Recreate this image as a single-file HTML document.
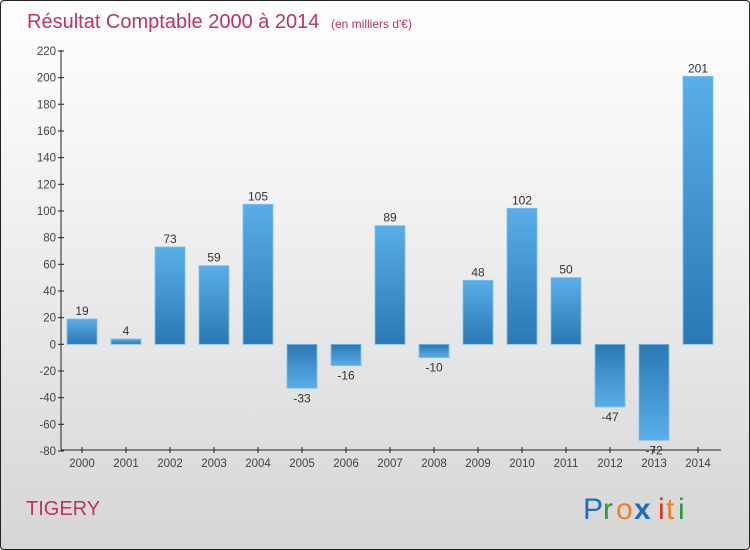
<!DOCTYPE html>
<html><head><meta charset="utf-8"><style>
body{margin:0}
#wrap{width:748px;height:548px;border:1px solid #222;border-radius:4px;background:linear-gradient(#ffffff,#f4f4f4 30%,#d6d6d6);position:relative;overflow:hidden;font-family:"Liberation Sans",sans-serif}
</style></head><body>
<div id="wrap">
<svg id="svg" width="748" height="548">
<defs>
<linearGradient id="gp" x1="0" y1="0" x2="0" y2="1"><stop offset="0" stop-color="#5aaee8"/><stop offset="1" stop-color="#2a78b4"/></linearGradient>
<linearGradient id="gn" x1="0" y1="0" x2="0" y2="1"><stop offset="0" stop-color="#2a78b4"/><stop offset="1" stop-color="#5aaee8"/></linearGradient>
</defs>
<text x="26" y="27" font-size="20" fill="#c0306a">Résultat Comptable 2000 à 2014 <tspan font-size="12" dx="6">(en milliers d'€)</tspan></text>
<text x="25" y="514" font-size="20" fill="#c0306a">TIGERY</text>
<g font-size="30" font-family="Liberation Sans,sans-serif">
<text x="582" y="518" fill="#1a6fc0">P</text><text x="602" y="518" fill="#2a9a3a">r</text><text x="615" y="518" fill="#f08020">o</text><text x="633" y="518" fill="#1a6fc0" font-weight="bold">x</text><text x="657" y="518" fill="#e03020">i</text><text x="665" y="518" fill="#f08020">t</text><text x="677" y="518" fill="#2a9a3a">i</text>
</g>
<g id="g"></g>
</svg>
</div>
<script>
const categories=["2000","2001","2002","2003","2004","2005","2006","2007","2008","2009","2010","2011","2012","2013","2014"];
const values=[19,4,73,59,105,-33,-16,89,-10,48,102,50,-47,-72,201];
const yTicks=[220,200,180,160,140,120,100,80,60,40,20,0,-20,-40,-60,-80];
const NS="http://www.w3.org/2000/svg";
const g=document.getElementById('g');
const y=v=>343.3-(v*400/300);
const x=i=>81+i*44;
function mk(t,a){const e=document.createElementNS(NS,t);for(const k in a)e.setAttribute(k,a[k]);g.appendChild(e);return e;}
let ax=mk('line',{x1:60,y1:49,x2:60,y2:449,stroke:'#222'});


let bx=mk('line',{x1:60,y1:449,x2:720,y2:449,stroke:'#222'});


yTicks.forEach(v=>{
 mk('line',{x1:57,y1:y(v),x2:63,y2:y(v),stroke:'#222'});
 const t=mk('text',{x:55,y:y(v)+4,'text-anchor':'end','font-size':11.5,fill:'#444'});
 t.textContent=v;
 
 
});
categories.forEach((c,i)=>{
 mk('line',{x1:x(i),y1:446,x2:x(i),y2:452,stroke:'#222'});
 const t=mk('text',{x:x(i),y:466,'text-anchor':'middle','font-size':11.5,fill:'#444'});
 t.textContent=c;
 
 
 const v=values[i];
 const top=Math.min(y(v),y(0)),h=Math.abs(y(v)-y(0));
 const r=mk('rect',{x:x(i)-15,y:top,width:30,height:h,fill:v>=0?'url(#gp)':'url(#gn)',stroke:'#7fc0f0','stroke-width':0.8});
 
 
 const l=mk('text',{x:x(i),y:v>=0?y(v)-4:y(v)+14,'text-anchor':'middle','font-size':12,fill:'#333'});
 l.textContent=v;
 
 
});
</script>
</body></html>
